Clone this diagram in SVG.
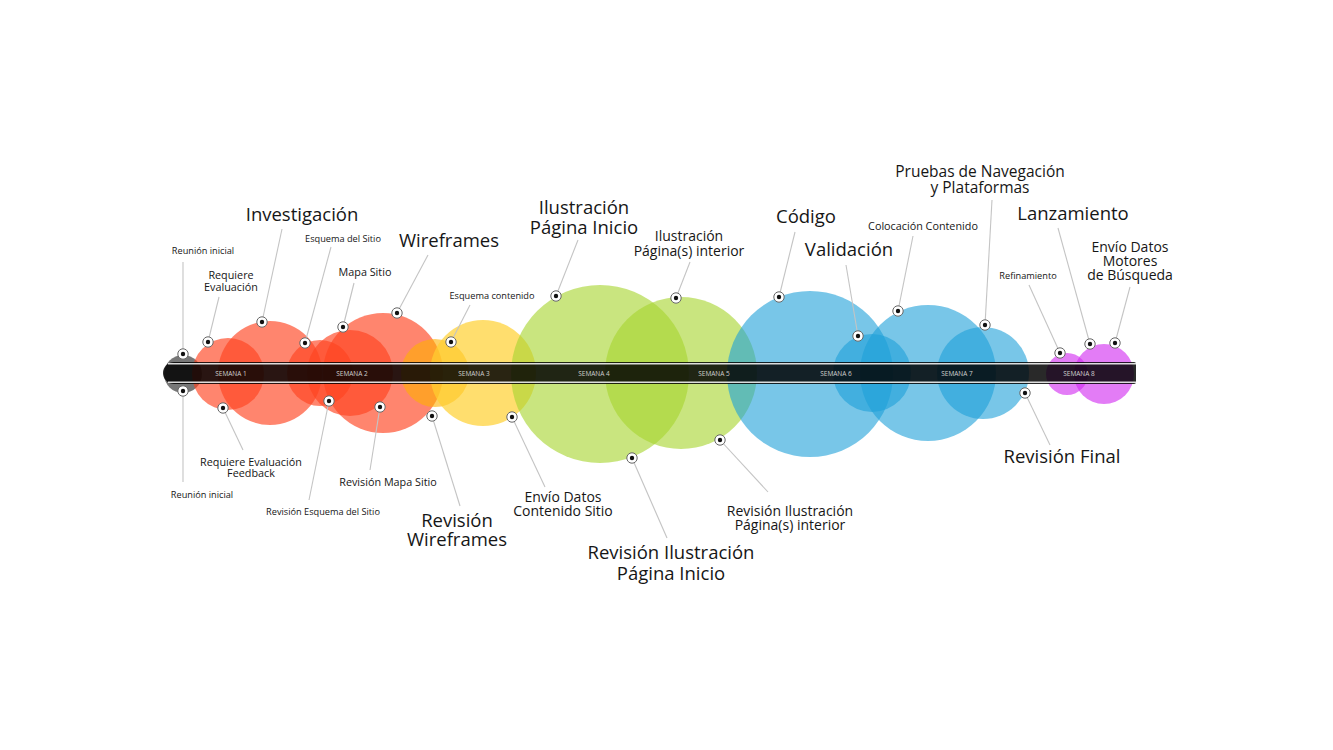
<svg xmlns="http://www.w3.org/2000/svg" width="1333" height="750" viewBox="0 0 1333 750">
<style>
.t{font-family:"Open Sans","Noto Sans","DejaVu Sans",sans-serif;fill:#161616;text-anchor:middle;font-weight:500}
.xl{font-size:18.5px}
.p{font-size:15.5px}
.l{font-size:14px}
.m{font-size:10.8px}
.s{font-size:9.2px}
.wk{font-family:"Open Sans","DejaVu Sans",sans-serif;font-size:6.5px;fill:#cfcfcf;text-anchor:middle}
.ld{stroke:#c4c4c4;stroke-width:1.1;fill:none}
.red{fill:#ff4420;fill-opacity:.65}
.org{fill:#ffb000;fill-opacity:.6}
.yel{fill:#ffd030;fill-opacity:.7}
.grn{fill:#a8d530;fill-opacity:.62}
.blu{fill:#1ea0d8;fill-opacity:.6}
.mag{fill:#d22cf0;fill-opacity:.62}
</style>
<defs>
<g id="dot"><circle r="5.2" fill="#fff" stroke="#666" stroke-width="1"/><circle r="2.2" fill="#111"/></g>
</defs>
<rect width="1333" height="750" fill="#fff"/>
<g id="circles">
<circle cx="183" cy="374" r="19" fill="#555" fill-opacity=".8"/>
<circle class="red" cx="228" cy="374" r="36"/>
<circle class="red" cx="270" cy="373" r="52"/>
<circle class="red" cx="320" cy="373" r="33"/>
<circle class="red" cx="350" cy="373" r="43"/>
<circle class="red" cx="383" cy="373" r="60"/>
<circle class="org" cx="435" cy="373" r="34"/>
<circle class="yel" cx="483" cy="373" r="53"/>
<circle class="grn" cx="600" cy="374" r="89"/>
<circle class="grn" cx="681" cy="373" r="76"/>
<circle class="blu" cx="810" cy="374" r="83"/>
<circle class="blu" cx="872" cy="373" r="39"/>
<circle class="blu" cx="928" cy="373" r="68"/>
<circle class="blu" cx="983" cy="373" r="46"/>
<circle class="mag" cx="1067" cy="374" r="21"/>
<circle class="mag" cx="1104" cy="374" r="30"/>
</g>
<g id="timeline">
<path d="M174,362 H1134 Q1136,362 1136,364 V382 Q1136,384 1134,384 H174 A11,11 0 0 1 174,362 Z" fill="#000" fill-opacity=".84"/>
<line x1="168" y1="363.8" x2="1136" y2="363.8" stroke="#fff" stroke-opacity=".85" stroke-width="1.4"/>
<line x1="168" y1="382.2" x2="1136" y2="382.2" stroke="#fff" stroke-opacity=".85" stroke-width="1.4"/>
<text class="wk" x="231" y="376">SEMANA 1</text>
<text class="wk" x="352" y="376">SEMANA 2</text>
<text class="wk" x="474" y="376">SEMANA 3</text>
<text class="wk" x="594" y="376">SEMANA 4</text>
<text class="wk" x="714" y="376">SEMANA 5</text>
<text class="wk" x="836" y="376">SEMANA 6</text>
<text class="wk" x="957" y="376">SEMANA 7</text>
<text class="wk" x="1079" y="376">SEMANA 8</text>
</g>
<g id="connectors">
<line class="ld" x1="183" y1="354" x2="183" y2="262"/>
<line class="ld" x1="208" y1="342" x2="219" y2="297"/>
<line class="ld" x1="262" y1="322" x2="282" y2="229"/>
<line class="ld" x1="305" y1="343" x2="331" y2="247"/>
<line class="ld" x1="343" y1="327" x2="354" y2="283"/>
<line class="ld" x1="397" y1="313" x2="428" y2="255"/>
<line class="ld" x1="451" y1="342" x2="470" y2="305"/>
<line class="ld" x1="556" y1="296" x2="578" y2="240"/>
<line class="ld" x1="676" y1="298" x2="690" y2="262"/>
<line class="ld" x1="779" y1="297" x2="795" y2="232"/>
<line class="ld" x1="858" y1="336" x2="846" y2="265"/>
<line class="ld" x1="898" y1="311" x2="913" y2="236"/>
<line class="ld" x1="985" y1="325" x2="992" y2="200"/>
<line class="ld" x1="1060" y1="353" x2="1029" y2="285"/>
<line class="ld" x1="1090" y1="344" x2="1058" y2="228"/>
<line class="ld" x1="1115" y1="343" x2="1130" y2="287"/>
<line class="ld" x1="183" y1="391" x2="183" y2="482"/>
<line class="ld" x1="223" y1="408" x2="243" y2="450"/>
<line class="ld" x1="329" y1="401" x2="309" y2="500"/>
<line class="ld" x1="380" y1="407" x2="370" y2="470"/>
<line class="ld" x1="432" y1="416" x2="460" y2="506"/>
<line class="ld" x1="512" y1="417" x2="545" y2="487"/>
<line class="ld" x1="632" y1="458" x2="667" y2="538"/>
<line class="ld" x1="720" y1="440" x2="768" y2="492"/>
<line class="ld" x1="1025" y1="393" x2="1050" y2="445"/>
</g>
<g id="reunion-inicial"><use href="#dot" x="183" y="354"/><text class="t s" x="203" y="254">Reunión inicial</text></g>
<g id="requiere-evaluacion"><use href="#dot" x="208" y="342"/><text class="t m" x="231" y="279">Requiere</text><text class="t m" x="231" y="291">Evaluación</text></g>
<g id="investigacion"><use href="#dot" x="262" y="322"/><text class="t xl" x="302" y="221">Investigación</text></g>
<g id="esquema-sitio"><use href="#dot" x="305" y="343"/><text class="t s" x="343" y="242">Esquema del Sitio</text></g>
<g id="mapa-sitio"><use href="#dot" x="343" y="327"/><text class="t m" x="365" y="276">Mapa Sitio</text></g>
<g id="wireframes"><use href="#dot" x="397" y="313"/><text class="t xl" x="449" y="247">Wireframes</text></g>
<g id="esquema-contenido"><use href="#dot" x="451" y="342"/><text class="t s" x="492" y="299">Esquema contenido</text></g>
<g id="ilustracion-inicio"><use href="#dot" x="556" y="296"/><text class="t xl" x="584" y="214">Ilustración</text><text class="t xl" x="584" y="234">Página Inicio</text></g>
<g id="ilustracion-interior"><use href="#dot" x="676" y="298"/><text class="t l" x="689" y="241">Ilustración</text><text class="t l" x="689" y="256">Página(s) interior</text></g>
<g id="codigo"><use href="#dot" x="779" y="297"/><text class="t xl" x="806" y="223">Código</text></g>
<g id="validacion"><use href="#dot" x="858" y="336"/><text class="t xl" x="849" y="256">Validación</text></g>
<g id="colocacion-contenido"><use href="#dot" x="898" y="311"/><text class="t m" x="923" y="230">Colocación Contenido</text></g>
<g id="pruebas"><use href="#dot" x="985" y="325"/><text class="t p" x="980" y="177">Pruebas de Navegación</text><text class="t p" x="980" y="193">y Plataformas</text></g>
<g id="refinamiento"><use href="#dot" x="1060" y="353"/><text class="t s" x="1028" y="279">Refinamiento</text></g>
<g id="lanzamiento"><use href="#dot" x="1090" y="344"/><text class="t xl" x="1073" y="220">Lanzamiento</text></g>
<g id="envio-motores"><use href="#dot" x="1115" y="343"/><text class="t l" x="1130" y="252">Envío Datos</text><text class="t l" x="1130" y="266">Motores</text><text class="t l" x="1130" y="280">de Búsqueda</text></g>
<g id="reunion-inicial-2"><use href="#dot" x="183" y="391"/><text class="t s" x="202" y="498">Reunión inicial</text></g>
<g id="feedback"><use href="#dot" x="223" y="408"/><text class="t m" x="251" y="466">Requiere Evaluación</text><text class="t m" x="251" y="477">Feedback</text></g>
<g id="revision-esquema"><use href="#dot" x="329" y="401"/><text class="t s" x="323" y="515">Revisión Esquema del Sitio</text></g>
<g id="revision-mapa"><use href="#dot" x="380" y="407"/><text class="t m" x="388" y="486">Revisión Mapa Sitio</text></g>
<g id="revision-wireframes"><use href="#dot" x="432" y="416"/><text class="t xl" x="457" y="527">Revisión</text><text class="t xl" x="457" y="546">Wireframes</text></g>
<g id="envio-contenido"><use href="#dot" x="512" y="417"/><text class="t l" x="563" y="502">Envío Datos</text><text class="t l" x="563" y="516">Contenido Sitio</text></g>
<g id="revision-inicio"><use href="#dot" x="632" y="458"/><text class="t xl" x="671" y="559">Revisión Ilustración</text><text class="t xl" x="671" y="580">Página Inicio</text></g>
<g id="revision-interior"><use href="#dot" x="720" y="440"/><text class="t l" x="790" y="516">Revisión Ilustración</text><text class="t l" x="790" y="530">Página(s) interior</text></g>
<g id="revision-final"><use href="#dot" x="1025" y="393"/><text class="t xl" x="1062" y="463">Revisión Final</text></g>
</svg>
